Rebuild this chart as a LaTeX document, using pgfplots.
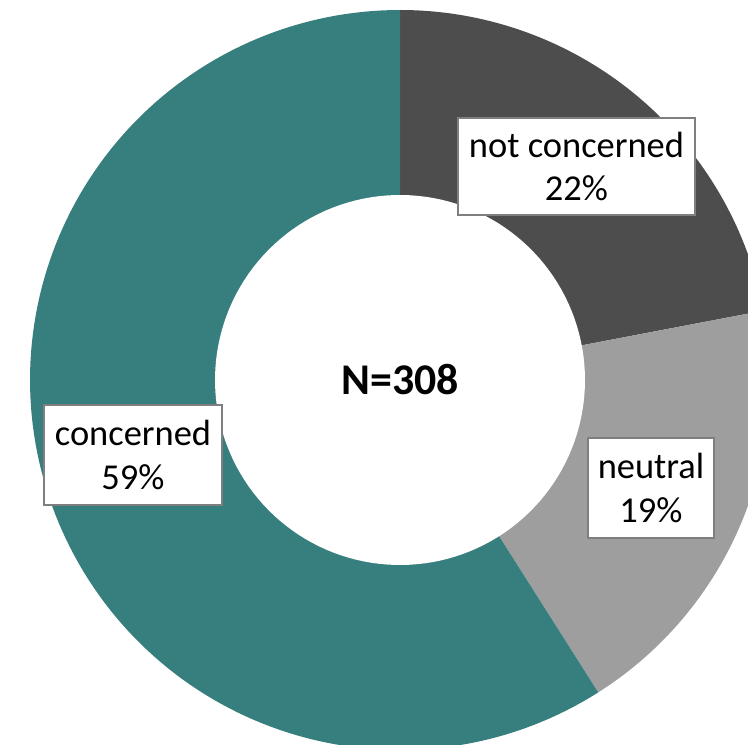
\documentclass[border=0pt]{standalone}
\usepackage{pgfplots}
\pgfplotsset{compat=1.18}
\usepackage{fontspec}
\setmainfont{Carlito}
\definecolor{cDark}{HTML}{4D4D4D}
\definecolor{cLight}{HTML}{9E9E9E}
\definecolor{cTeal}{HTML}{377F7E}
\definecolor{cBox}{HTML}{7F7F7F}
\tikzset{lbl/.style={draw=cBox, line width=0.8bp, fill=white, align=center,
     inner sep=0pt, font=\fontsize{18.3}{21.8}\selectfont}}
% shares in percent (clockwise from 12 o'clock)
\def\vNot{22}
\def\vNeu{19}
\def\vCon{59}
\begin{document}
\begin{tikzpicture}
\pgfmathsetmacro{\aA}{90}
\pgfmathsetmacro{\aB}{90-3.6*\vNot}
\pgfmathsetmacro{\aC}{\aB-3.6*\vNeu}
\pgfmathsetmacro{\aD}{\aC-3.6*\vCon}
\begin{axis}[
  width=374bp, height=372.5bp, scale only axis,
  xmin=-400, xmax=348, ymin=-365, ymax=380,
  hide axis, clip=true,
]
\addplot[fill=cDark, draw=none, domain=\aB:\aA, samples=80, variable=\t]
  ({370*cos(t)},{370*sin(t)}) -- (axis cs:0,0) -- cycle;
\addplot[fill=cLight, draw=none, domain=\aC:\aB, samples=80, variable=\t]
  ({370*cos(t)},{370*sin(t)}) -- (axis cs:0,0) -- cycle;
\addplot[fill=cTeal, draw=none, domain=\aD:\aC, samples=150, variable=\t]
  ({370*cos(t)},{370*sin(t)}) -- (axis cs:0,0) -- cycle;
\addplot[fill=white, draw=none, domain=0:360, samples=150, variable=\t]
  ({185*cos(t)},{185*sin(t)}) -- cycle;
\node[lbl, minimum width=118.5bp, minimum height=48.5bp] at (axis cs:176.5,213.5) {not concerned\\\vNot\%};
\node[lbl, minimum width=63bp, minimum height=50bp] at (axis cs:251,-108) {neutral\\\vNeu\%};
\node[lbl, minimum width=89bp, minimum height=50bp] at (axis cs:-267,-75) {concerned\\\vCon\%};
\node[font=\fontsize{22}{26}\selectfont\bfseries] at (axis cs:0,0) {N=308};
\end{axis}
\pgfresetboundingbox
\path[use as bounding box] (current axis.south west) rectangle (current axis.north east);
\end{tikzpicture}
\end{document}
